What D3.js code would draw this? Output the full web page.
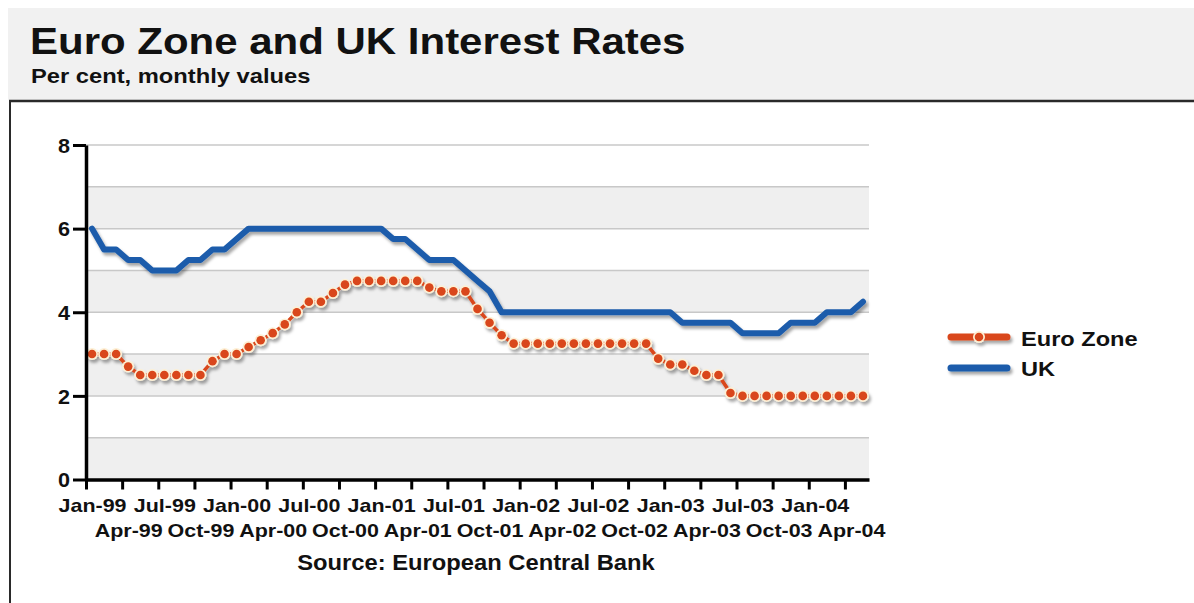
<!DOCTYPE html>
<html><head><meta charset="utf-8">
<script src="https://cdn.jsdelivr.net/npm/d3@7"></script>
<style>
html,body{margin:0;padding:0;background:#fff;}
svg{display:block;font-family:"Liberation Sans",Arial,Helvetica,sans-serif;font-weight:bold;}
</style></head><body>
<svg id="chart" width="1194" height="603"></svg>
<script>
const titleText = "Euro Zone and UK Interest Rates";
const subtitleText = "Per cent, monthly values";
const sourceText = "Source: European Central Bank";
const seriesNames = ["Euro Zone", "UK"];
const tickLabels = ["Jan-99","Apr-99","Jul-99","Oct-99","Jan-00","Apr-00","Jul-00","Oct-00",
  "Jan-01","Apr-01","Jul-01","Oct-01","Jan-02","Apr-02","Jul-02","Oct-02",
  "Jan-03","Apr-03","Jul-03","Oct-03","Jan-04","Apr-04"];
const yTicks = [0, 2, 4, 6, 8];

// Monthly values, Jan 1999 to May 2004 (per cent)
const euroZone = [
  3.0, 3.0, 3.0, 2.7, 2.5, 2.5, 2.5, 2.5, 2.5, 2.5, 2.83, 3.0,
  3.0, 3.17, 3.33, 3.5, 3.71, 4.0, 4.25, 4.25, 4.46, 4.66, 4.75, 4.75,
  4.75, 4.75, 4.75, 4.75, 4.59, 4.5, 4.5, 4.5, 4.08, 3.75, 3.45, 3.25,
  3.25, 3.25, 3.25, 3.25, 3.25, 3.25, 3.25, 3.25, 3.25, 3.25, 3.25, 2.89,
  2.75, 2.75, 2.6, 2.5, 2.5, 2.07, 2.0, 2.0, 2.0, 2.0, 2.0, 2.0,
  2.0, 2.0, 2.0, 2.0, 2.0
];
const uk = [
  6.0, 5.5, 5.5, 5.25, 5.25, 5.0, 5.0, 5.0, 5.25, 5.25, 5.5, 5.5,
  5.75, 6.0, 6.0, 6.0, 6.0, 6.0, 6.0, 6.0, 6.0, 6.0, 6.0, 6.0,
  6.0, 5.75, 5.75, 5.5, 5.25, 5.25, 5.25, 5.0, 4.75, 4.5, 4.0, 4.0,
  4.0, 4.0, 4.0, 4.0, 4.0, 4.0, 4.0, 4.0, 4.0, 4.0, 4.0, 4.0,
  4.0, 3.75, 3.75, 3.75, 3.75, 3.75, 3.5, 3.5, 3.5, 3.5, 3.75, 3.75,
  3.75, 4.0, 4.0, 4.0, 4.25
];

const EURO_COLOR = "#d9461a", EURO_RING = "#fdf0d5", UK_COLOR = "#1d5cab";
const SX = 1.13; // horizontal stretch of lettering

const svg = d3.select("#chart");
const defs = svg.append("defs");
const shadow = defs.append("filter").attr("id", "shadow")
  .attr("filterUnits", "userSpaceOnUse")
  .attr("x", 0).attr("y", 0).attr("width", 1194).attr("height", 603);
shadow.append("feDropShadow").attr("dx", 2).attr("dy", 3).attr("stdDeviation", 1.6)
  .attr("flood-color", "#000").attr("flood-opacity", 0.35);

// header panel
svg.append("rect").attr("x", 8).attr("y", 8).attr("width", 1186).attr("height", 92).attr("fill", "#f1f1f1");
svg.append("line").attr("x1", 9).attr("x2", 1194).attr("y1", 101).attr("y2", 101)
  .attr("stroke", "#2a2a2a").attr("stroke-width", 2.5);
svg.append("line").attr("x1", 10).attr("x2", 10).attr("y1", 100).attr("y2", 603)
  .attr("stroke", "#2a2a2a").attr("stroke-width", 2);

function stretched(parent, text, x, y, size, anchor, sx) {
  return parent.append("text")
    .attr("transform", `translate(${x},${y}) scale(${sx},1)`)
    .attr("font-size", size).attr("text-anchor", anchor || "start")
    .attr("fill", "#111").text(text);
}

stretched(svg, titleText, 30, 54, 37, "start", 1.135);
stretched(svg, subtitleText, 31, 83, 21, "start", 1.13);

// scales: month index from start of Jan 1999 to start of Jun 2004
const x = d3.scaleLinear().domain([0, 65]).range([86, 869]);
const y = d3.scaleLinear().domain([0, 8]).range([479.5, 145]);
const halfMonth = (x(1) - x(0)) / 2;

const plot = svg.append("g");
const units = d3.range(0, 8);
plot.selectAll("rect.band").data(units.filter(d => d % 2 === 0)).join("rect")
  .attr("class", "band")
  .attr("x", x(0)).attr("width", x(65) - x(0))
  .attr("y", d => y(d + 1)).attr("height", d => y(d) - y(d + 1))
  .attr("fill", "#efefef");
plot.selectAll("line.grid").data(d3.range(1, 9)).join("line")
  .attr("class", "grid")
  .attr("x1", x(0)).attr("x2", x(65))
  .attr("y1", d => y(d)).attr("y2", d => y(d))
  .attr("stroke", "#c8c8c8").attr("stroke-width", 1.5);

// UK line
const mid = i => x(i + 0.5);
const line = d3.line().x((d, i) => mid(i)).y(d => y(d));
svg.append("path").datum(uk)
  .attr("d", line).attr("fill", "none")
  .attr("stroke", UK_COLOR).attr("stroke-width", 6)
  .attr("stroke-linejoin", "round").attr("stroke-linecap", "round")
  .attr("filter", "url(#shadow)");

// Euro Zone dotted line
const euroG = svg.append("g").attr("filter", "url(#shadow)");
euroG.append("path").datum(euroZone)
  .attr("d", line).attr("fill", "none")
  .attr("stroke", EURO_COLOR).attr("stroke-width", 3.5).attr("stroke-linejoin", "round");
euroG.selectAll("circle.ring").data(euroZone).join("circle")
  .attr("class", "ring").attr("cx", (d, i) => mid(i)).attr("cy", d => y(d))
  .attr("r", 6).attr("fill", EURO_RING);
euroG.selectAll("circle.dot").data(euroZone).join("circle")
  .attr("class", "dot").attr("cx", (d, i) => mid(i)).attr("cy", d => y(d))
  .attr("r", 4.3).attr("fill", EURO_COLOR);

// axes
const xAxis = d3.axisBottom(x)
  .tickValues(d3.range(0, 64, 3))
  .tickFormat((d, i) => tickLabels[i])
  .tickSize(10).tickSizeOuter(0);
const gx = svg.append("g").attr("transform", `translate(0,${y(0)})`).call(xAxis);
gx.select(".domain").attr("stroke", "#000").attr("stroke-width", 3.5);
gx.selectAll(".tick line").attr("stroke", "#000").attr("stroke-width", 3);
gx.selectAll(".tick text")
  .attr("y", null).attr("dy", null)
  .attr("transform", (d, i) => `translate(${halfMonth},${i % 2 ? 57 : 32.5}) scale(${SX},1)`)
  .attr("font-size", 19).attr("fill", "#111");
gx.attr("font-family", null);

const yAxis = d3.axisLeft(y).tickValues(yTicks).tickFormat(d3.format("d"))
  .tickSize(13).tickSizeOuter(0);
const gy = svg.append("g").attr("transform", `translate(${x(0)},0)`).call(yAxis);
gy.select(".domain").attr("stroke", "#000").attr("stroke-width", 3.5);
gy.selectAll(".tick line").attr("stroke", "#000").attr("stroke-width", 3);
gy.selectAll(".tick text")
  .attr("x", null).attr("dy", "0.36em")
  .attr("transform", `translate(-16,0) scale(1.08,1)`)
  .attr("font-size", 20).attr("fill", "#111");
gy.attr("font-family", null);

stretched(svg, sourceText, 476, 570, 22, "middle", 1.08);

// legend
const legend = svg.append("g");
const lgEuro = legend.append("g").attr("filter", "url(#shadow)");
lgEuro.append("line").attr("x1", 951).attr("x2", 1007).attr("y1", 337).attr("y2", 337)
  .attr("stroke", EURO_COLOR).attr("stroke-width", 7).attr("stroke-linecap", "round");
lgEuro.append("circle").attr("cx", 979).attr("cy", 337).attr("r", 6).attr("fill", EURO_RING);
lgEuro.append("circle").attr("cx", 979).attr("cy", 337).attr("r", 4.3).attr("fill", EURO_COLOR);
legend.append("line").attr("x1", 951).attr("x2", 1007).attr("y1", 368).attr("y2", 368)
  .attr("stroke", UK_COLOR).attr("stroke-width", 7).attr("stroke-linecap", "round")
  .attr("filter", "url(#shadow)");
stretched(legend, seriesNames[0], 1021, 346, 20, "start", 1.18);
stretched(legend, seriesNames[1], 1021, 376, 20, "start", 1.18);
</script>
</body></html>
